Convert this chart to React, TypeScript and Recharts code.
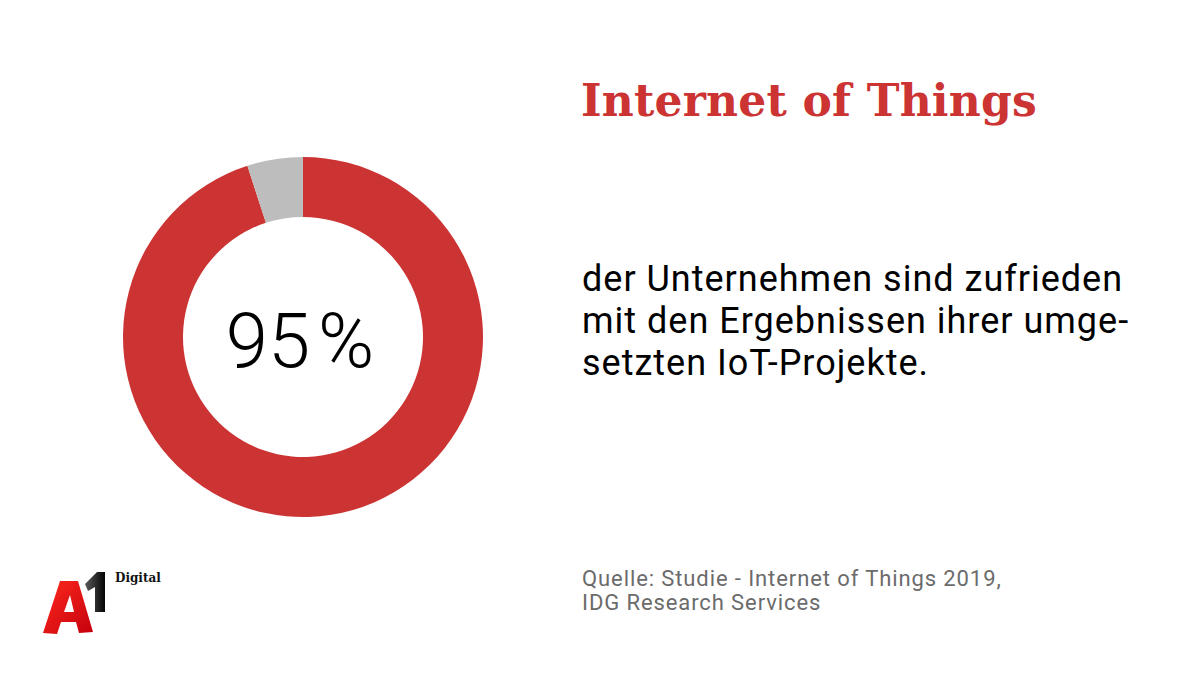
import { PieChart, Pie, Cell } from "recharts";

const segments = ["zufrieden", "nicht zufrieden"];
const shares = [95, 5];
const colors = ["#cc3333", "#bdbdbd"];

const headline = "Internet of Things";
const bodyLines = [
  "der Unternehmen sind zufrieden",
  "mit den Ergebnissen ihrer umge-",
  "setzten IoT-Projekte.",
];
const sourceLines = [
  "Quelle: Studie - Internet of Things 2019,",
  "IDG Research Services",
];

const data = segments.map((name, i) => ({ name, value: shares[i] }));

export default function App() {
  return (
    <div
      style={{
        position: "absolute",
        left: 0,
        top: 0,
        width: 1200,
        height: 675,
        background: "#ffffff",
        overflow: "hidden",
      }}
    >
      <PieChart
        width={1200}
        height={675}
        margin={{ top: 0, right: 0, bottom: 0, left: 0 }}
        style={{ position: "absolute", left: 0, top: 0 }}
      >
        <Pie
          data={data}
          dataKey="value"
          nameKey="name"
          cx={303}
          cy={337}
          innerRadius={120}
          outerRadius={180}
          startAngle={90}
          endAngle={-270}
          stroke="none"
          isAnimationActive={false}
        >
          {data.map((d, i) => (
            <Cell key={d.name} fill={colors[i]} />
          ))}
        </Pie>
      </PieChart>

      {/* value in the middle of the ring */}
      <div
        style={{
          position: "absolute",
          left: 200,
          width: 200,
          top: 296,
          textAlign: "center",
          fontFamily: "Roboto, 'Noto Sans', sans-serif",
          fontWeight: 300,
          fontSize: 76,
          lineHeight: "90px",
          color: "#000",
        }}
      >
        {shares[0]}
        <span style={{ marginLeft: 8 }}>%</span>
      </div>

      <div
        style={{
          position: "absolute",
          left: 581,
          top: 71,
          fontFamily: "'DejaVu Serif', serif",
          fontWeight: 700,
          fontSize: 44,
          letterSpacing: 0.2,
          lineHeight: "60px",
          color: "#cc3333",
          whiteSpace: "nowrap",
        }}
      >
        {headline}
      </div>

      <div
        style={{
          position: "absolute",
          left: 582,
          top: 258,
          fontFamily: "Roboto, 'Noto Sans', sans-serif",
          fontSize: 36,
          letterSpacing: 1,
          lineHeight: "42px",
          color: "#000",
          whiteSpace: "nowrap",
        }}
      >
        {bodyLines.map((l) => (
          <div key={l}>{l}</div>
        ))}
      </div>

      <div
        style={{
          position: "absolute",
          left: 582,
          top: 567,
          fontFamily: "Roboto, 'Noto Sans', sans-serif",
          fontSize: 22,
          letterSpacing: 0.9,
          lineHeight: "24px",
          color: "#6b6b6b",
          whiteSpace: "nowrap",
        }}
      >
        {sourceLines.map((l) => (
          <div key={l}>{l}</div>
        ))}
      </div>

      {/* A1 Digital logo */}
      <svg width={200} height={100} style={{ position: "absolute", left: 0, top: 560 }}>
        <defs>
          <linearGradient id="redA" x1="0" y1="0" x2="1" y2="1">
            <stop offset="0" stopColor="#ff2a1f" />
            <stop offset="1" stopColor="#c4000b" />
          </linearGradient>
          <linearGradient id="blackOne" x1="0" y1="0" x2="1" y2="0">
            <stop offset="0" stopColor="#5a5a5a" />
            <stop offset="1" stopColor="#050505" />
          </linearGradient>
        </defs>
        <path
          d="M85 24 L97 12 L105 12 L105 52 L95 52 L95 27 L88 31 Z"
          fill="url(#blackOne)"
        />
        <path
          d="M43 73 L60 21 L78 21 L93 72 L79 73 L76 62 L61 62 L57 74 Z M64 52 L74 52 L70 35 Z"
          fill="url(#redA)"
          fillRule="evenodd"
        />
        <text
          x={115}
          y={22}
          fontFamily="'DejaVu Serif', serif"
          fontWeight={700}
          fontSize={12}
          fill="#111"
        >
          Digital
        </text>
      </svg>
    </div>
  );
}
